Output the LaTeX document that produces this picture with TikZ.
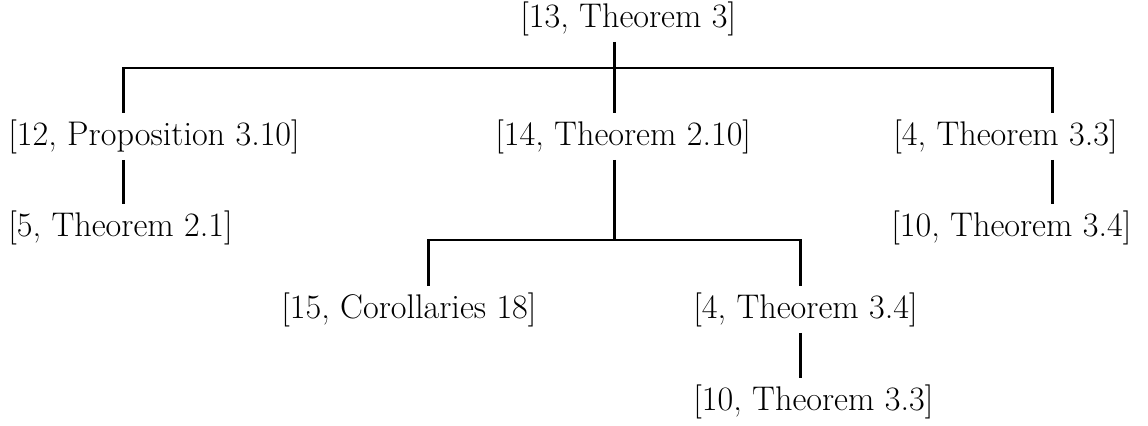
\documentclass[tikz,border=0pt]{standalone}
\begin{document}
\begin{tikzpicture}[x=0.5pt,y=-0.5pt,
  lbl/.style={inner sep=3pt, font=\fontsize{17.1}{20}\selectfont, anchor=base west},
  vline/.style={line width=1.5pt},
  hline/.style={line width=1pt}]
\useasboundingbox (0,0) rectangle (1148,425);
% nodes
\node[lbl] (root) at (514,27)  {[13, Theorem 3]};
\node[lbl] (n12)  at (2,145)   {[12, Proposition 3.10]};
\node[lbl] (n14)  at (489,145) {[14, Theorem 2.10]};
\node[lbl] (n433) at (887,145) {[4, Theorem 3.3]};
\node[lbl] (n5)   at (2,236)   {[5, Theorem 2.1]};
\node[lbl] (n1034) at (885,236) {[10, Theorem 3.4]};
\node[lbl] (n15)  at (275,318) {[15, Corollaries 18]};
\node[lbl] (n434) at (687,318) {[4, Theorem 3.4]};
\node[lbl] (n1033) at (687,410) {[10, Theorem 3.3]};
% junctions
\coordinate (j0) at (614,68);
\coordinate (hL) at (123,68);
\coordinate (hR) at (1052,68);
\coordinate (j1) at (614,240);
\coordinate (mL) at (428,240);
\coordinate (mR) at (800,240);
% connectors
\draw[hline] (hL) -- (hR);
\draw[vline] (root.south -| j0) -- (n14.north -| j0);
\draw[vline] ([yshift=0.5pt]hL) -- (n12.north -| hL);
\draw[vline] (n12.south -| hL) -- (n5.north -| hL);
\draw[vline] ([yshift=0.5pt]hR) -- (n433.north -| hR);
\draw[vline] (n433.south -| hR) -- (n1034.north -| hR);
\draw[vline] (n14.south -| j1) -- (j1);
\draw[hline] (mL) -- (mR);
\draw[vline] ([yshift=0.5pt]mL) -- (n15.north -| mL);
\draw[vline] ([yshift=0.5pt]mR) -- (n434.north -| mR);
\draw[vline] (n434.south -| mR) -- (n1033.north -| mR);
\end{tikzpicture}
\end{document}
